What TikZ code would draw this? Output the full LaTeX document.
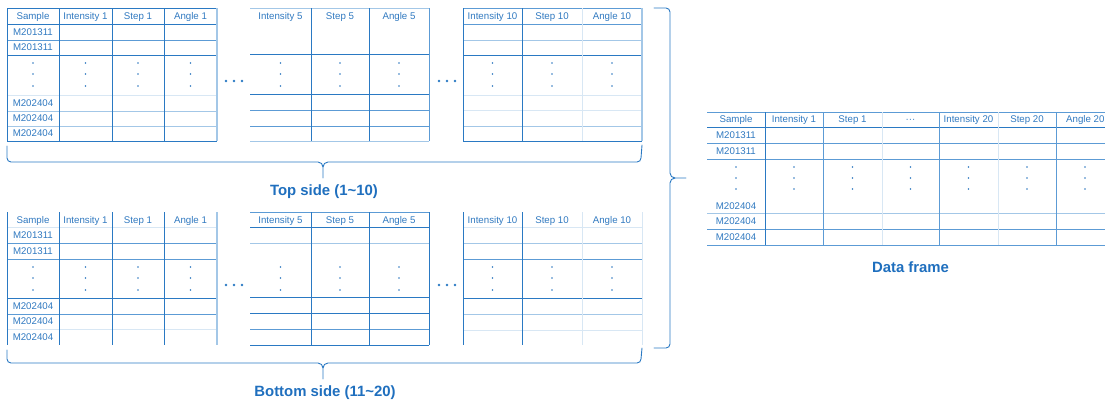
\documentclass[tikz,border=0pt]{standalone}
\usepackage{fontspec}
\setmainfont{Liberation Sans}
\usetikzlibrary{calc}
\definecolor{bd}{HTML}{2A79C3}
\definecolor{bm}{HTML}{5C9BD5}
\definecolor{bl}{HTML}{A3C7E7}
\definecolor{bv}{HTML}{D8E7F4}
\definecolor{tx}{HTML}{3079C0}
\definecolor{lb}{HTML}{1F6FBE}
\tikzset{
  ld/.style={draw=bd,line width=0.9pt},
  lm/.style={draw=bm,line width=0.9pt},
  ll/.style={draw=bl,line width=0.9pt},
  lv/.style={draw=bv,line width=0.9pt},
  lw/.style={draw=bl,line width=1.5pt},
  cell/.style={text=tx,font=\fontsize{9.7}{10}\selectfont,inner sep=0pt,
    text height=7pt,text depth=0.6pt},
  lbl/.style={text=lb,font=\fontsize{14.9}{16}\selectfont\bfseries,inner sep=0pt},
  brc/.style={draw=bd,line width=0.9pt,line cap=round},
}
\begin{document}
\begin{tikzpicture}[x=1pt,y=-1pt]
\useasboundingbox (0,0) rectangle (1105,402);
\clip (0,0) rectangle (1105,402);

% ---------- upper block: tables 1, 5 and 10 ----------
\foreach \y/\s in {8/ld,24/ld,40/lm,55/ld,95/lv,111/ll,126/ll,141/ld}
  \draw[\s] (7,\y) -- (217,\y);
\foreach \x in {7,59,112,164} \draw[ld] (\x,8) -- (\x,141);
\draw[lw] (217,8) -- (217,141);

\foreach \y/\s in {8/ll,54/ld,94/ld,110/lm,126/lm,141/ll}
  \draw[\s] (250,\y) -- (429,\y);
\foreach \x in {311,369} \draw[ld] (\x,8) -- (\x,141);
\draw[lm] (429,8) -- (429,141);

\foreach \y/\s in {8/lm,24/lm,40/ll,55/ld,95/lv,110/lv,126/ll,141/ld}
  \draw[\s] (463,\y) -- (642,\y);
\foreach \x in {463,522} \draw[ld] (\x,8) -- (\x,141);
\draw[lv] (582,8) -- (582,141);
\draw[lw] (642,8) -- (642,141);

% ---------- lower block: tables 11, 15 and 20 ----------
\foreach \y/\s in {227/lv,243/lm,259/lm,298/ld,314/lm,329/lv}
  \draw[\s] (7,\y) -- (217,\y);
\foreach \x in {7,59,112,164} \draw[ld] (\x,212) -- (\x,345);
\draw[lw] (217,212) -- (217,345);

\foreach \y/\s in {212/lm,227/ld,243/ll,297/ld,313/ld,329/lm,345/ld}
  \draw[\s] (250,\y) -- (429,\y);
\foreach \x in {311,369,429} \draw[ld] (\x,212) -- (\x,345);

\foreach \y/\s in {227/lv,243/ll,259/lm,298/ld,314/ll,330/lv}
  \draw[\s] (463,\y) -- (642,\y);
\foreach \x in {463,522} \draw[ld] (\x,212) -- (\x,345);
\foreach \x in {582,642} \draw[lv] (\x,212) -- (\x,345);

% ---------- merged data frame ----------
\foreach \y/\s in {112/lm,127/ld,143/lm,159/lm,213/ll,229/lm,245/lm}
  \draw[\s] (707,\y) -- (1105,\y);
\foreach \x/\s in {765/ld,823/lm,882/lv,939/lm,998/lv,1056/lm}
  \draw[\s] (\x,112) -- (\x,245);

% ---------- header texts ----------
\foreach \yy/\b in {16/u,220/d}{
  \node[cell] (\b smp) at (33,\yy) {Sample};
  \node[cell] (\b ia) at (85.5,\yy) {Intensity 1};
  \node[cell] (\b sa) at (138,\yy) {Step 1};
  \node[cell] (\b aa) at (190.5,\yy) {Angle 1};
  \node[cell] (\b ib) at (280.5,\yy) {Intensity 5};
  \node[cell] (\b sb) at (340,\yy) {Step 5};
  \node[cell] (\b ab) at (399,\yy) {Angle 5};
  \node[cell] (\b ic) at (492.5,\yy) {Intensity 10};
  \node[cell] (\b sc) at (552,\yy) {Step 10};
  \node[cell] (\b ac) at (612,\yy) {Angle 10};
}
\node[cell] (fsmp) at (736,119.5) {Sample};
\node[cell] (fia) at (794,119.5) {Intensity 1};
\node[cell] (fsa) at (852.5,119.5) {Step 1};
\node[cell] (fel) at (910.5,119.5) {···};
\node[cell] (fit) at (968.5,119.5) {Intensity 20};
\node[cell] (fst) at (1027,119.5) {Step 20};
\node[cell,anchor=west] (fat) at (1066,119.5) {Angle 20};

% ---------- sample ids ----------
\foreach \y [count=\i] in {32,47.5,235,251} \node[cell] (ua\i) at (33,\y) {M201311};
\foreach \y [count=\i] in {103,118.5,133.5,306,321.5,337} \node[cell] (ub\i) at (33,\y) {M202404};
\foreach \y [count=\i] in {135,151} \node[cell] (fa\i) at (736,\y) {M201311};
\foreach \y [count=\i] in {206,221,237} \node[cell] (fb\i) at (736,\y) {M202404};

% ---------- vertical ellipses in the columns ----------
\foreach \x in {33,85.5,138,190.5,280.5,340,399,492.5,552,612}{
  \foreach \y in {63,74,86,267,278,290} \fill[tx] (\x,\y) circle (0.8pt);
}
\foreach \x in {736,794,852.5,910.5,968.5,1027,1085}{
  \foreach \y in {167,178,189} \fill[tx] (\x,\y) circle (0.8pt);
}

% ---------- horizontal ellipses between tables ----------
\foreach \x in {226,234,242,439,447,455}{
  \foreach \y in {81,285} \fill[bd] (\x,\y) circle (1.3pt);
}

% ---------- braces ----------
\coordinate (tL) at (7,146);
\coordinate (tR) at (642,145);
\coordinate (tS) at (323,167);
\coordinate (tT) at (323,178);
\draw[brc] (tL) -- (7,158) to[out=-90,in=180] (11,162) -- (318,162) to[out=0,in=90] (tS) -- (tT);
\draw[brc] (tR) -- (641,158) to[out=-90,in=0] (637,162) -- (328,162) to[out=180,in=90] (tS);

\coordinate (bL) at (7,350);
\coordinate (bR) at (642,348);
\coordinate (bS) at (323,368);
\coordinate (bT) at (323,379);
\draw[brc] (bL) -- (7,359) to[out=-90,in=180] (11,363) -- (318,363) to[out=0,in=90] (bS) -- (bT);
\draw[brc] (bR) -- (641,359) to[out=-90,in=0] (637,363) -- (328,363) to[out=180,in=90] (bS);

\coordinate (rT) at (654,8);
\coordinate (rB) at (654,348);
\coordinate (rS) at (675,178);
\coordinate (rP) at (686,178);
\draw[brc] (rT) -- (666,8) to[out=0,in=90] (670,12) -- (670,173) to[out=-90,in=180] (rS) -- (rP);
\draw[brc] (rB) -- (666,348) to[out=0,in=-90] (670,344) -- (670,183) to[out=90,in=180] (rS);

% ---------- captions ----------
\node[lbl] (topcap) at (324,192) {Top side (1\textasciitilde10)};
\node[lbl] (botcap) at (325,393) {Bottom side (11\textasciitilde20)};
\node[lbl] (dfcap) at (910.5,267) {Data frame};
\end{tikzpicture}
\end{document}
